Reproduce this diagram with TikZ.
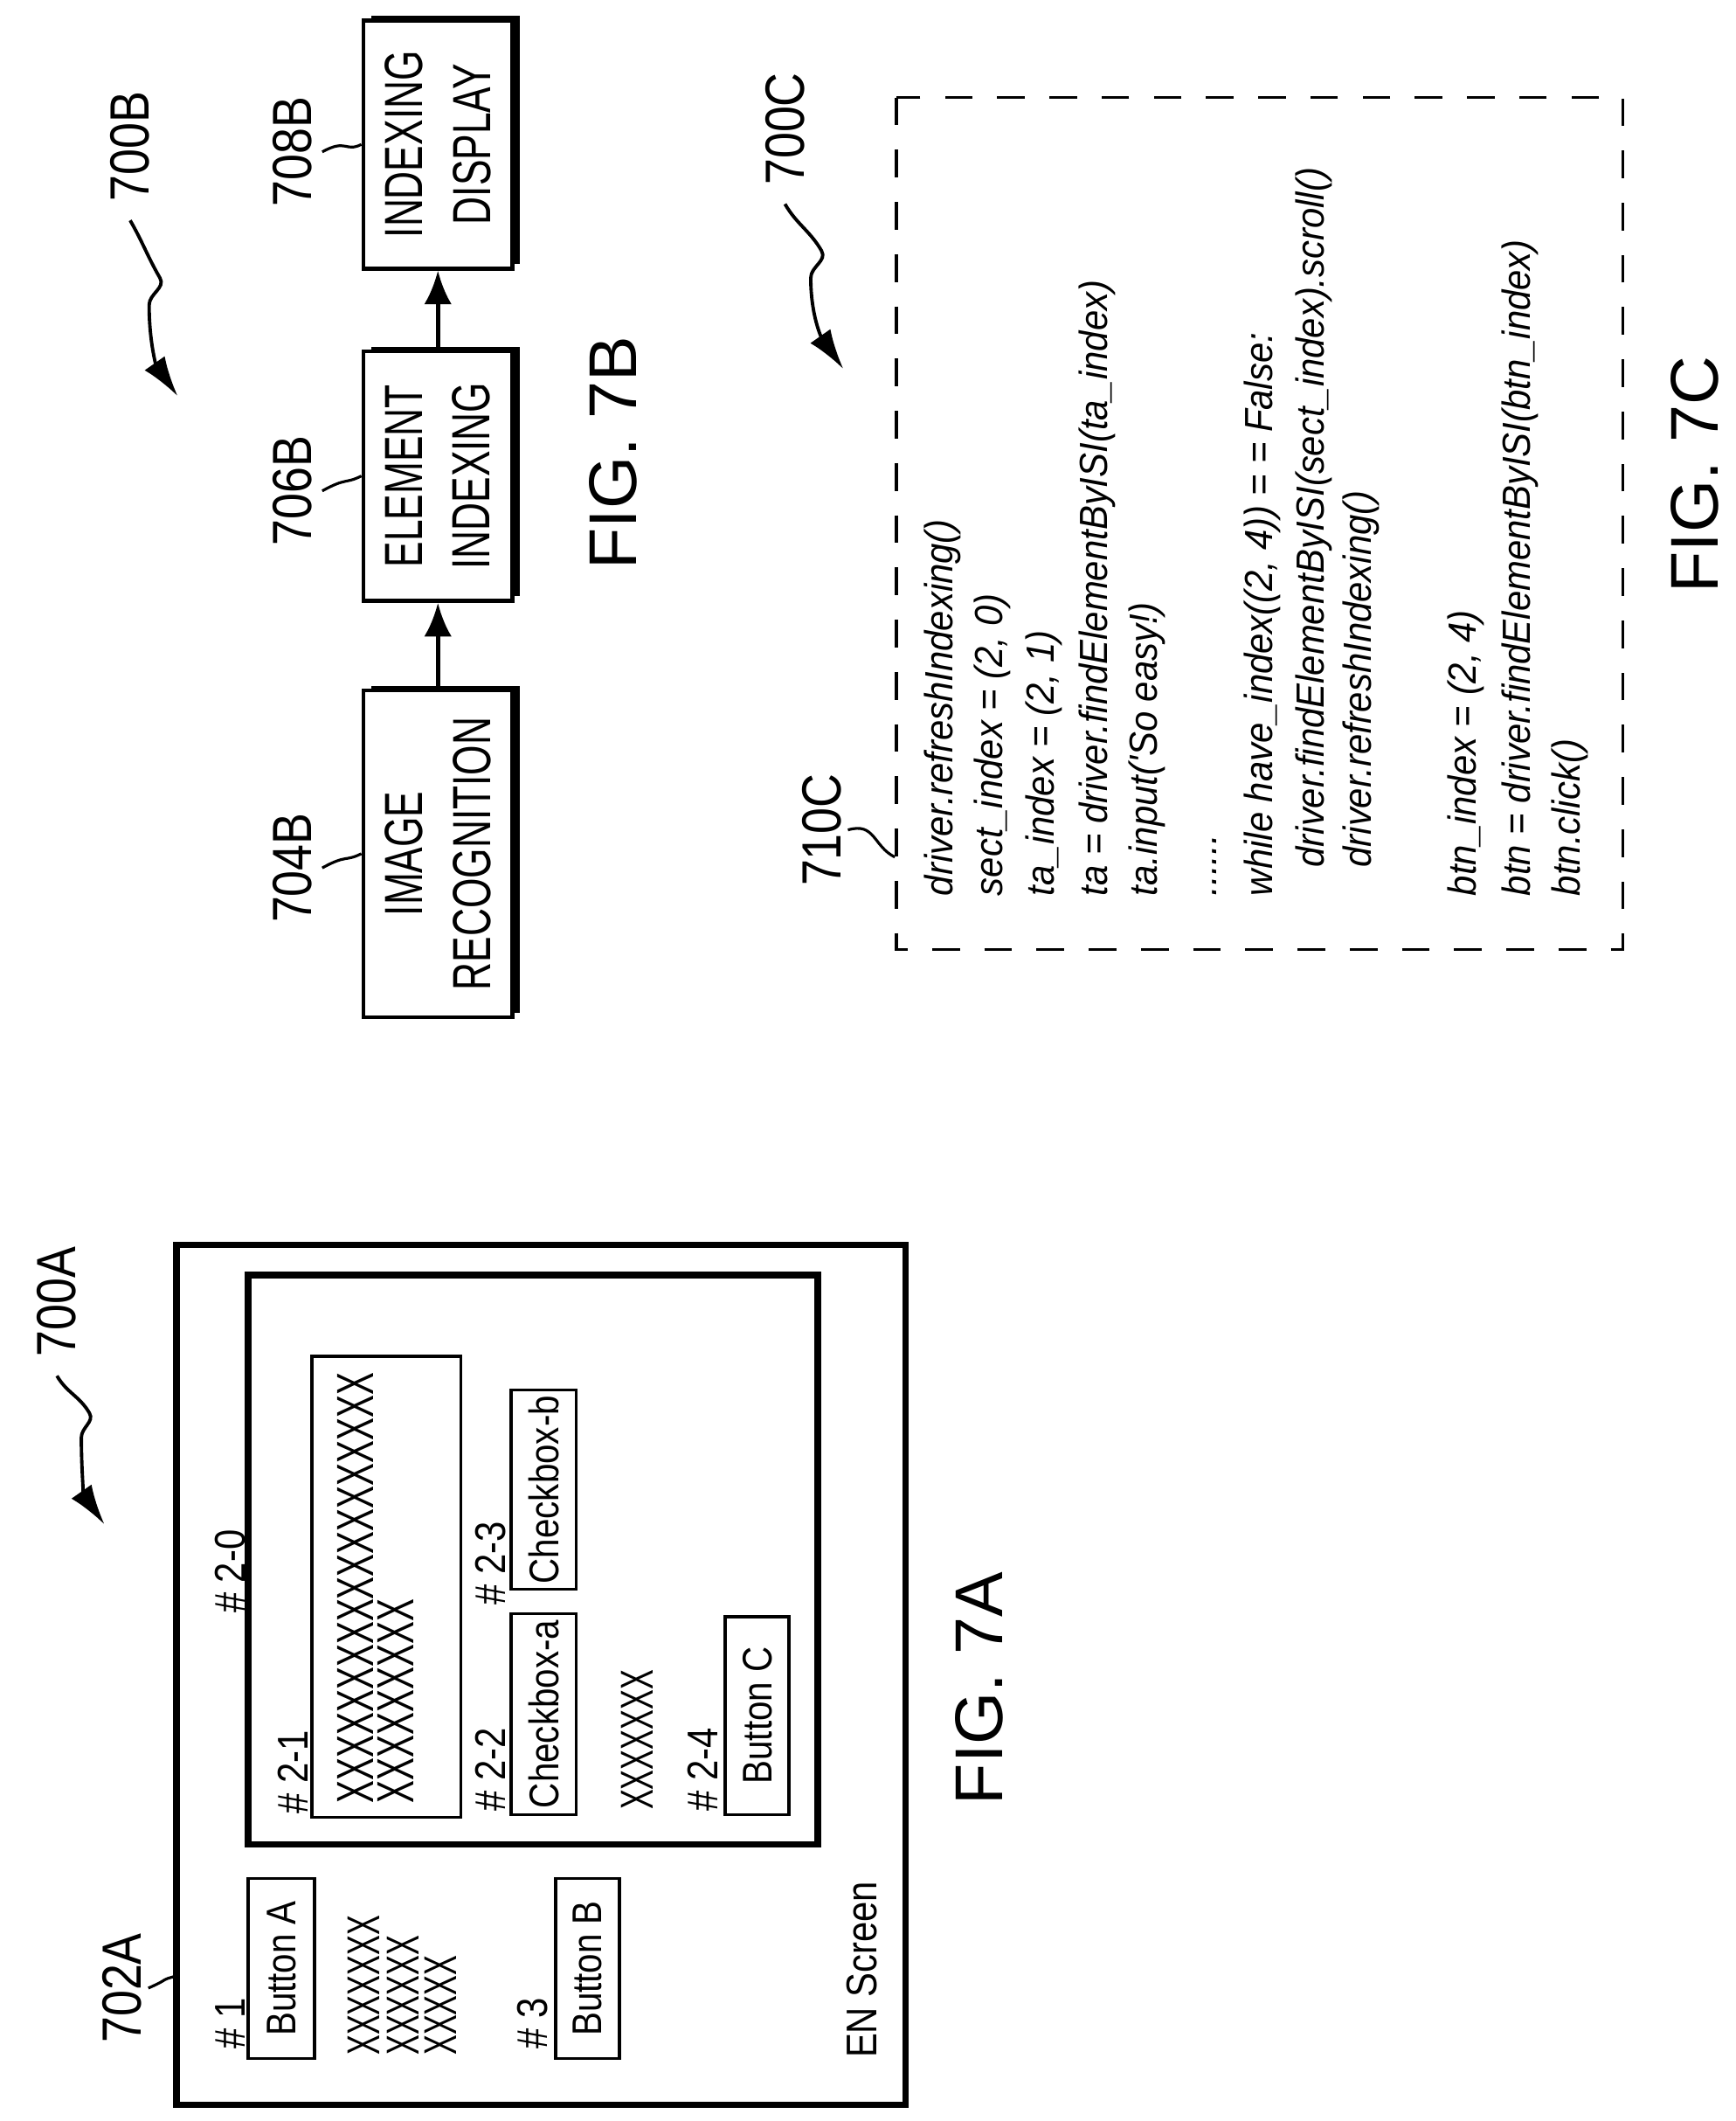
\documentclass[tikz,border=0pt]{standalone}
\usepackage{fontspec}
\setmainfont{Liberation Sans}
\newfontfamily\narrowfont{Liberation Sans}[FakeStretch=0.85]
\newfontfamily\tightfont{Liberation Sans}[FakeStretch=0.72]
\newfontfamily\codefont{Liberation Sans}[FakeStretch=0.93]
\newfontfamily\xfont{Liberation Sans}[FakeStretch=0.65]
\usetikzlibrary{arrows.meta, shadows}
\newcommand{\dpx}{0.015516cm}
\tikzset{
  lbl/.style={rotate=90, font=\narrowfont\fontsize{14}{16}\selectfont, inner sep=0pt},
  fill x/.style={rotate=90, anchor=west, font=\xfont\fontsize{15}{17}\selectfont, inner sep=0pt},
  refnum/.style={rotate=90, font=\narrowfont\fontsize{18}{20}\selectfont, inner sep=0pt},
  figlbl/.style={rotate=90, font=\fontsize{22}{26}\selectfont, inner sep=0pt},
  code/.style={rotate=90, anchor=west, font=\codefont\itshape\fontsize{12.8}{15}\selectfont, inner sep=0pt},
  widget/.style={draw, line width=1pt, rotate=90, inner sep=1pt, font=\narrowfont\fontsize{13.5}{16}\selectfont},
  stage/.style={draw, line width=1.3pt, fill=white, rotate=90, align=center,
    minimum height=110*\dpx, font=\tightfont\fontsize{17.5}{22}\selectfont,
    general shadow={fill=black, shadow xshift=2.5pt, shadow yshift=1.5pt}},
  frame/.style={draw, line width=2.2pt},
  leader/.style={line width=0.9pt},
  pointer/.style={line width=1.1pt, -{Latex[length=13pt,width=8pt]}},
  arrow/.style={line width=1.4pt, -{Latex[length=11pt,width=9pt]}}
}
\begin{document}
\begin{tikzpicture}[x=\dpx, y=-\dpx]
  \useasboundingbox (0,0) rectangle (1280,1564);
  % FIG. 7A
  \draw[frame] (130,918) rectangle (668,1552);
  \draw[frame] (183,940) rectangle (603,1360);
  \node[widget, minimum width=133*\dpx, minimum height=49*\dpx] (btnA) at (207.5,1451.5) {Button A};
  \node[widget, minimum width=133*\dpx, minimum height=47*\dpx] (btnB) at (433.5,1451.5) {Button B};
  \node[widget, minimum width=148*\dpx, minimum height=48*\dpx] (cbA) at (401,1264) {Checkbox-a};
  \node[widget, minimum width=147*\dpx, minimum height=48*\dpx] (cbB) at (401,1098.5) {Checkbox-b};
  \node[widget, minimum width=146*\dpx, minimum height=47*\dpx] (btnC) at (558.5,1265) {Button C};
  \draw[line width=1pt] (230,1000) rectangle (340,1340);
  \node[lbl, anchor=west] (n1) at (170,1511) {\# 1};
  \node[lbl, anchor=west] (n3) at (393,1511) {\# 3};
  \node[lbl, anchor=west] (n20) at (170,1190) {\# 2-0};
  \node[lbl, anchor=west] (n21) at (216,1338) {\# 2-1};
  \node[lbl, anchor=west] (n22) at (362,1336) {\# 2-2};
  \node[lbl, anchor=west] (n23) at (362,1184) {\# 2-3};
  \node[lbl, anchor=west] (n24) at (518,1336) {\# 2-4};
  \node[fill x] (xa) at (268,1516) {XXXXXXX};
  \node[fill x] (xb) at (297,1516) {XXXXXX};
  \node[fill x] (xc) at (325,1516) {XXXXX};
  \node[fill x, font=\xfont\fontsize{17}{19}\selectfont] (xd) at (262,1330) {XXXXXXXXXXXXXXXXXXX};
  \node[fill x, font=\xfont\fontsize{17}{19}\selectfont] (xe) at (292,1330) {XXXXXXXXX};
  \node[fill x] (xf) at (470,1335) {XXXXXXX};
  \node[lbl, anchor=west] (screen) at (636,1518) {EN Screen};
  \node[figlbl] (fig7a) at (722,1245) {FIG. 7A};
  \node[refnum] (r700a) at (42,960) {700A};
  \node[refnum] (r702a) at (90,1466) {702A};
  \coordinate (t700a) at (77,1124);
  \coordinate (e702a) at (130,1457);
  \draw[pointer] ([yshift=-6pt]r700a.west) to[out=-60,in=120] (66,1042)
    to[out=-60,in=90] (60,1060) to[out=-90,in=125] (t700a);
  \draw[leader] ([xshift=2pt]r702a.south) .. controls +(18,-8) and +(-14,4) .. (e702a);
  % FIG. 7B
  \node[stage, minimum width=241*\dpx] (recog) at (323,629.5) {IMAGE\\RECOGNITION};
  \node[stage, minimum width=184*\dpx] (index) at (323,351) {ELEMENT\\INDEXING};
  \node[stage, minimum width=183*\dpx] (disp) at (323,106.5) {INDEXING\\DISPLAY};
  \draw[arrow] (recog) -- (index);
  \draw[arrow] (index) -- (disp);
  \node[refnum] (r704b) at (216,640) {704B};
  \node[refnum] (r706b) at (216,362) {706B};
  \node[refnum] (r708b) at (216,112) {708B};
  \foreach \r/\b in {r704b/recog, r706b/index, r708b/disp}
    \draw[leader] ([xshift=3pt]\r.south) .. controls +(18,-10) and +(-12,6) .. (\b.north);
  \node[refnum] (r700b) at (96,108) {700B};
  \coordinate (t700b) at (131,292);
  \draw[pointer] ([yshift=-6pt]r700b.west) to[out=-60,in=120] (118,205)
    to[out=-60,in=90] (110,225) to[out=-90,in=125] (t700b);
  \node[figlbl] (fig7b) at (452,334) {FIG. 7B};
  % FIG. 7C
  \draw[line width=1pt, dash pattern=on 9pt off 8pt] (661,72) rectangle (1197,700);
  \node[refnum] (r700c) at (579,95) {700C};
  \coordinate (t700c) at (622,272);
  \draw[pointer] ([yshift=-6pt]r700c.west) to[out=-60,in=120] (606,185)
    to[out=-60,in=90] (598,205) to[out=-90,in=125] (t700c);
  \node[refnum] (r710c) at (606,612) {710C};
  \coordinate (e710c) at (660,632);
  \draw[leader] ([xshift=2pt]r710c.south) .. controls +(20,-6) and +(-16,-8) .. (e710c);
  \node[code] (c1) at (695,661) {driver.refreshIndexing()};
  \node[code] (c2) at (732,661) {sect\_index = (2, 0)};
  \node[code] (c3) at (770,661) {ta\_index = (2, 1)};
  \node[code] (c4) at (809,661) {ta = driver.findElementByISI(ta\_index)};
  \node[code] (c5) at (846,661) {ta.input('So easy!)};
  \node[code] (c6) at (896,661) {......};
  \node[code] (c7) at (931,661) {while have\_index((2, 4)) = = False:};
  \node[code] (c8) at (969,640) {driver.findElementByISI(sect\_index).scroll()};
  \node[code] (c9) at (1004,640) {driver.refreshIndexing()};
  \node[code] (c10) at (1081,661) {btn\_index = (2, 4)};
  \node[code] (c11) at (1121,661) {btn = driver.findElementByISI(btn\_index)};
  \node[code] (c12) at (1158,661) {btn.click()};
  \node[figlbl] (fig7c) at (1250,350) {FIG. 7C};
\end{tikzpicture}
\end{document}
